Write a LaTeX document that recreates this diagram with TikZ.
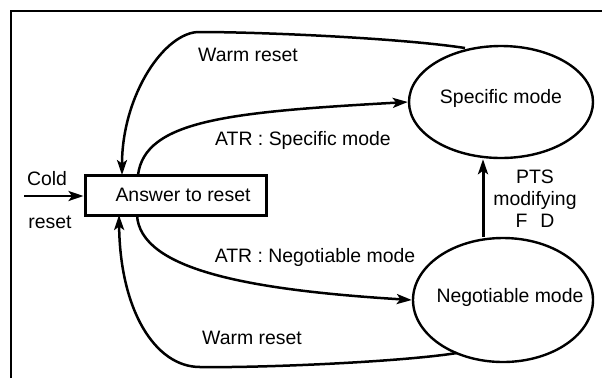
\documentclass[tikz,border=0pt]{standalone}
\usepackage{fontspec}
\setmainfont{Liberation Sans}
\usetikzlibrary{arrows.meta,shapes.geometric}
\begin{document}
\begin{tikzpicture}[x=1bp,y=-1bp,
  txt/.style={font=\fontsize{19.5}{22}\selectfont, inner sep=0pt},
  arr/.style={line width=2.5bp, -{Stealth[length=15bp,width=10bp,inset=3.5bp]}},
  boxnode/.style={draw, line width=3bp, minimum width=181bp, minimum height=40bp, inner sep=0pt},
  ell/.style={draw, ellipse, line width=2.4bp, inner sep=0pt}]
\useasboundingbox (0,0) rectangle (602,378);
\draw[line width=1.2bp] (11,378) -- (11,11) -- (602,11);
% nodes
\node[boxnode] (atr) at (175.5,195) {};
\node[txt] (atrt) at (183,195) {Answer to reset};
\node[ell, minimum width=184bp, minimum height=112bp] (spec) at (501,102) {};
\node[txt] (spect) at (501,98) {Specific mode};
\node[ell, minimum width=180bp, minimum height=124bp] (neg) at (503,300) {};
\node[txt] (negt) at (510,297) {Negotiable mode};
% labels
\node[txt] (w1) at (248,55) {Warm reset};
\node[txt] (w2) at (252,338) {Warm reset};
\node[txt] (l1) at (303,140) {ATR : Specific mode};
\node[txt] (l2) at (315,257) {ATR : Negotiable mode};
\node[txt] (cold) at (47,179) {Cold};
\node[txt] (creset) at (50,222) {reset};
\node[txt, align=center] (pts) at (535,199) {PTS\\modifying\\F\hspace{13bp}D};
% connectors
\coordinate (cstart) at (24,196);
\draw[arr] (cstart) -- (atr.west |- cstart);
\coordinate (s1) at (465,48);
\coordinate (t1) at (122,175);
\draw[arr] (s1) .. controls (400,38) and (260,32) .. (200,32)
  .. controls (165,31) and (122,95) .. (t1);
\coordinate (s2) at (138,175);
\draw[arr] (s2) .. controls (145,120) and (230,112) .. (spec.west);
\coordinate (s3) at (137,215);
\draw[arr] (s3) .. controls (140,270) and (250,290) .. (neg.west);
\coordinate (s4) at (457,353);
\coordinate (t4) at (119,215);
\draw[arr] (s4) .. controls (400,362) and (260,368) .. (200,367)
  .. controls (155,367) and (120,310) .. (t4);
\draw[line width=3bp, -{Stealth[length=15bp,width=10bp,inset=3.5bp]}] (neg.north -| 483,0) -- (spec.south -| 483,0);
\end{tikzpicture}
\end{document}
